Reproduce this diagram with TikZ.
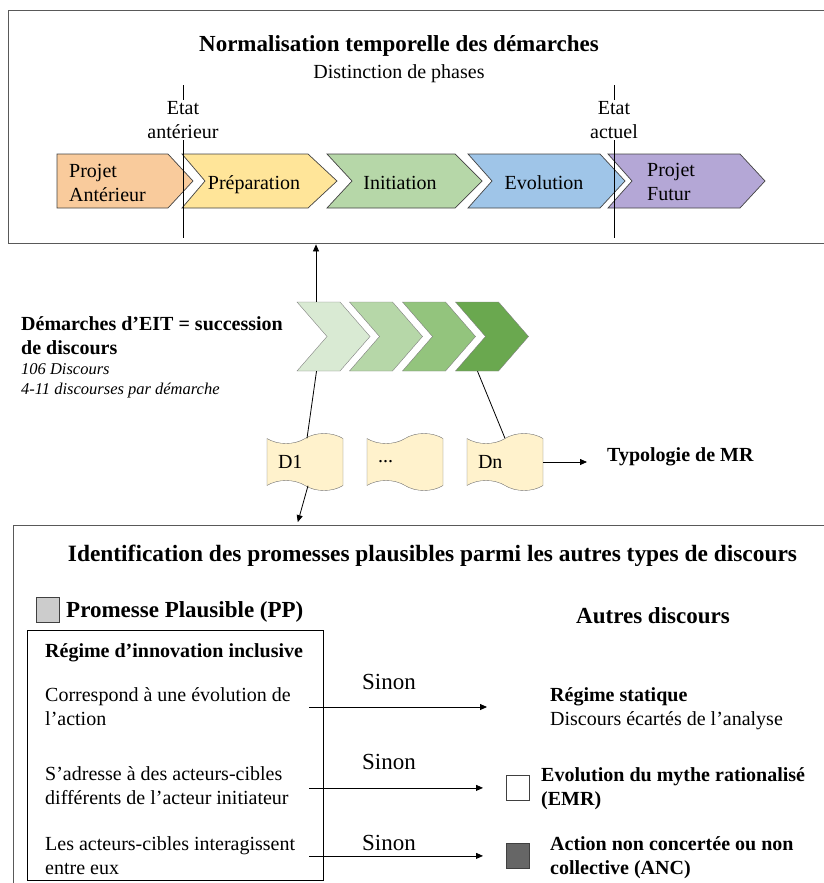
\documentclass[tikz,border=0pt]{standalone}
\usepackage{fontspec}
\setmainfont{Liberation Serif}
\usetikzlibrary{shapes.symbols,arrows.meta}
\definecolor{framegray}{HTML}{595959}
\definecolor{edgegray}{HTML}{434343}
\definecolor{cOrange}{HTML}{F9CB9C}
\definecolor{cYellow}{HTML}{FFE599}
\definecolor{cGreen}{HTML}{B6D7A8}
\definecolor{cBlue}{HTML}{9FC5E8}
\definecolor{cPurple}{HTML}{B4A7D6}
\definecolor{gA}{HTML}{D9EAD3}
\definecolor{gB}{HTML}{B6D7A8}
\definecolor{gC}{HTML}{93C47D}
\definecolor{gD}{HTML}{6AA84F}
\definecolor{docfill}{HTML}{FFF2CC}
\definecolor{ppgray}{HTML}{CCCCCC}
\definecolor{ancgray}{HTML}{666666}
\begin{document}
\begin{tikzpicture}[x=1pt,y=-1pt, every node/.style={font=\fontsize{20}{24}\selectfont, inner sep=0pt}]
  \tikzstyle{frame}=[draw=framegray,line width=1.4pt,anchor=north west]
  \tikzstyle{phase}=[draw=edgegray,line width=0.7pt,line join=miter]
  \tikzstyle{discchev}=[signal,signal to=east,signal from=west,signal pointer angle=98,draw=gray,minimum width=73pt,minimum height=69pt]
  \tikzstyle{doc}=[tape,tape bend bottom=out and in,draw=gray!90!black,fill=docfill,minimum width=76pt,minimum height=57pt,tape bend height=10pt,text width=54pt,align=left]
  \tikzstyle{lbl}=[anchor=base west,align=left]
  \tikzstyle{bigbf}=[font=\bfseries\fontsize{23}{27}\selectfont]
  \tikzstyle{bf}=[font=\bfseries\fontsize{20}{24}\selectfont]
  \tikzstyle{arr}=[-{Triangle[length=7pt,width=6pt]},line width=0.8pt]
  \tikzstyle{swatch}=[draw=black!75,line width=0.8pt,minimum width=23pt,minimum height=25pt,anchor=north west]
  \useasboundingbox (0,0) rectangle (824,883);
  \node[frame,minimum width=830pt,minimum height=233pt] (top) at (8,10) {};
  \node[frame,minimum width=830pt,minimum height=380pt] (bottom) at (13,525) {};
  \node[bigbf,anchor=base] (ttl) at (399,52) {Normalisation temporelle des démarches};
  \node[anchor=base] (sub) at (399,78) {Distinction de phases};
  \draw[phase,fill=cOrange] (57,154) -- (168,154) -- (193,181) -- (168,208) -- (57,208) -- cycle;
  \draw[phase,fill=cYellow] (182,154) -- (308,154) -- (337,181) -- (308,208) -- (182,208) -- (205,181) -- cycle;
  \draw[phase,fill=cGreen] (327,154) -- (455,154) -- (482,181) -- (455,208) -- (327,208) -- (352,181) -- cycle;
  \draw[phase,fill=cBlue] (468,154) -- (600,154) -- (625,181) -- (600,208) -- (468,208) -- (492,181) -- cycle;
  \draw[phase,fill=cPurple] (608,154) -- (740,154) -- (765,181) -- (740,208) -- (608,208) -- (632,181) -- cycle;
  \node[lbl] (lpa) at (69,201) {Projet\\Antérieur};
  \node[anchor=base] (lprep) at (254,189) {Préparation};
  \node[anchor=base] (linit) at (400,189) {Initiation};
  \node[anchor=base] (levol) at (544,189) {Evolution};
  \node[lbl] (lfut) at (647,200) {Projet\\Futur};
  \draw[line width=0.8pt] (183,85) -- (183,238);
  \draw[line width=0.8pt] (614,85) -- (614,238);
  \node[fill=white,align=center,inner sep=1pt] (ea) at (183,120) {Etat\\antérieur};
  \node[fill=white,align=center,inner sep=1pt] (eb) at (614,120) {Etat\\actuel};
  \node[discchev,fill=gA] (g1) at (333.5,336.5) {};
  \node[discchev,fill=gB] (g2) at (386,336.5) {};
  \node[discchev,fill=gC] (g3) at (439,336.5) {};
  \node[discchev,fill=gD] (g4) at (492,336.5) {};
  \node[bf,lbl] (dem) at (21,354) {Démarches d’EIT = succession\\de discours};
  \node[lbl,font=\itshape\fontsize{16.5}{20}\selectfont] (nb) at (21,394) {106 Discours\\4-11 discourses par démarche};
  \node[doc] (d1) at (305,462) {D1};
  \node[doc] (dd) at (405,462) {...};
  \node[doc] (dn) at (505,462) {Dn};
  \node[bf,lbl] (typo) at (607,461) {Typologie de MR};
  \draw[arr] ([xshift=-17.5pt]g1.north) -- ([xshift=-17.5pt]g1.north |- top.south);
  \draw[line width=0.8pt] ([xshift=-17pt]g1.south) -- ([xshift=2pt]d1.north);
  \draw[line width=0.8pt] ([xshift=-14.5pt]g4.south) -- (dn.north);
  \draw[arr,shorten >=3pt] ([xshift=3pt]d1.south) -- ([xshift=-8pt]d1.south |- bottom.north);
  \draw[arr,shorten >=20pt] (dn.east) -- (dn.east -| typo.west);
  \node[bigbf,anchor=base,font=\bfseries\fontsize{23.4}{27}\selectfont] (idt) at (432.5,561) {Identification des promesses plausibles parmi les autres types de discours};
  \node[swatch,fill=ppgray] (sq1) at (36,597) {};
  \node[bigbf,lbl] (pp) at (66,617) {Promesse Plausible (PP)};
  \node[bigbf,anchor=base] (autres) at (653,623) {Autres discours};
  \node[draw,line width=1pt,anchor=north west,minimum width=296pt,minimum height=250pt] (crit) at (27,630) {};
  \node[bf,lbl] (rii) at (45,657) {Régime d’innovation inclusive};
  \node[lbl] (c1) at (45,725) {Correspond à une évolution de\\l’action};
  \node[lbl] (c2) at (45,804) {S’adresse à des acteurs-cibles\\différents de l’acteur initiateur};
  \node[lbl] (c3) at (45,874) {Les acteurs-cibles interagissent\\entre eux};
  \node[lbl] (r1) at (550,725) {\textbf{Régime statique}\\Discours écartés de l’analyse};
  \node[swatch,fill=white] (sq2) at (506,775) {};
  \node[bf,lbl] (r2) at (541,805) {Evolution du mythe rationalisé\\(EMR)};
  \node[swatch,fill=ancgray] (sq3) at (506,843) {};
  \node[bf,lbl] (r3) at (550,874) {Action non concertée ou non\\collective (ANC)};
  \coordinate (e1) at (487,707);
  \draw[arr] ([xshift=-15pt]crit.east |- e1) -- (e1);
  \draw[arr] ([xshift=-15pt]crit.east |- sq2.center) -- ([xshift=-23pt]sq2.west);
  \draw[arr] ([xshift=-15pt]crit.east |- sq3.center) -- ([xshift=-23pt]sq3.west);
  \node[anchor=base,font=\fontsize{23}{27}\selectfont] (s1) at (389,689) {Sinon};
  \node[anchor=base,font=\fontsize{23}{27}\selectfont] (s2) at (389,769) {Sinon};
  \node[anchor=base,font=\fontsize{23}{27}\selectfont] (s3) at (389,850) {Sinon};
\end{tikzpicture}
\end{document}
